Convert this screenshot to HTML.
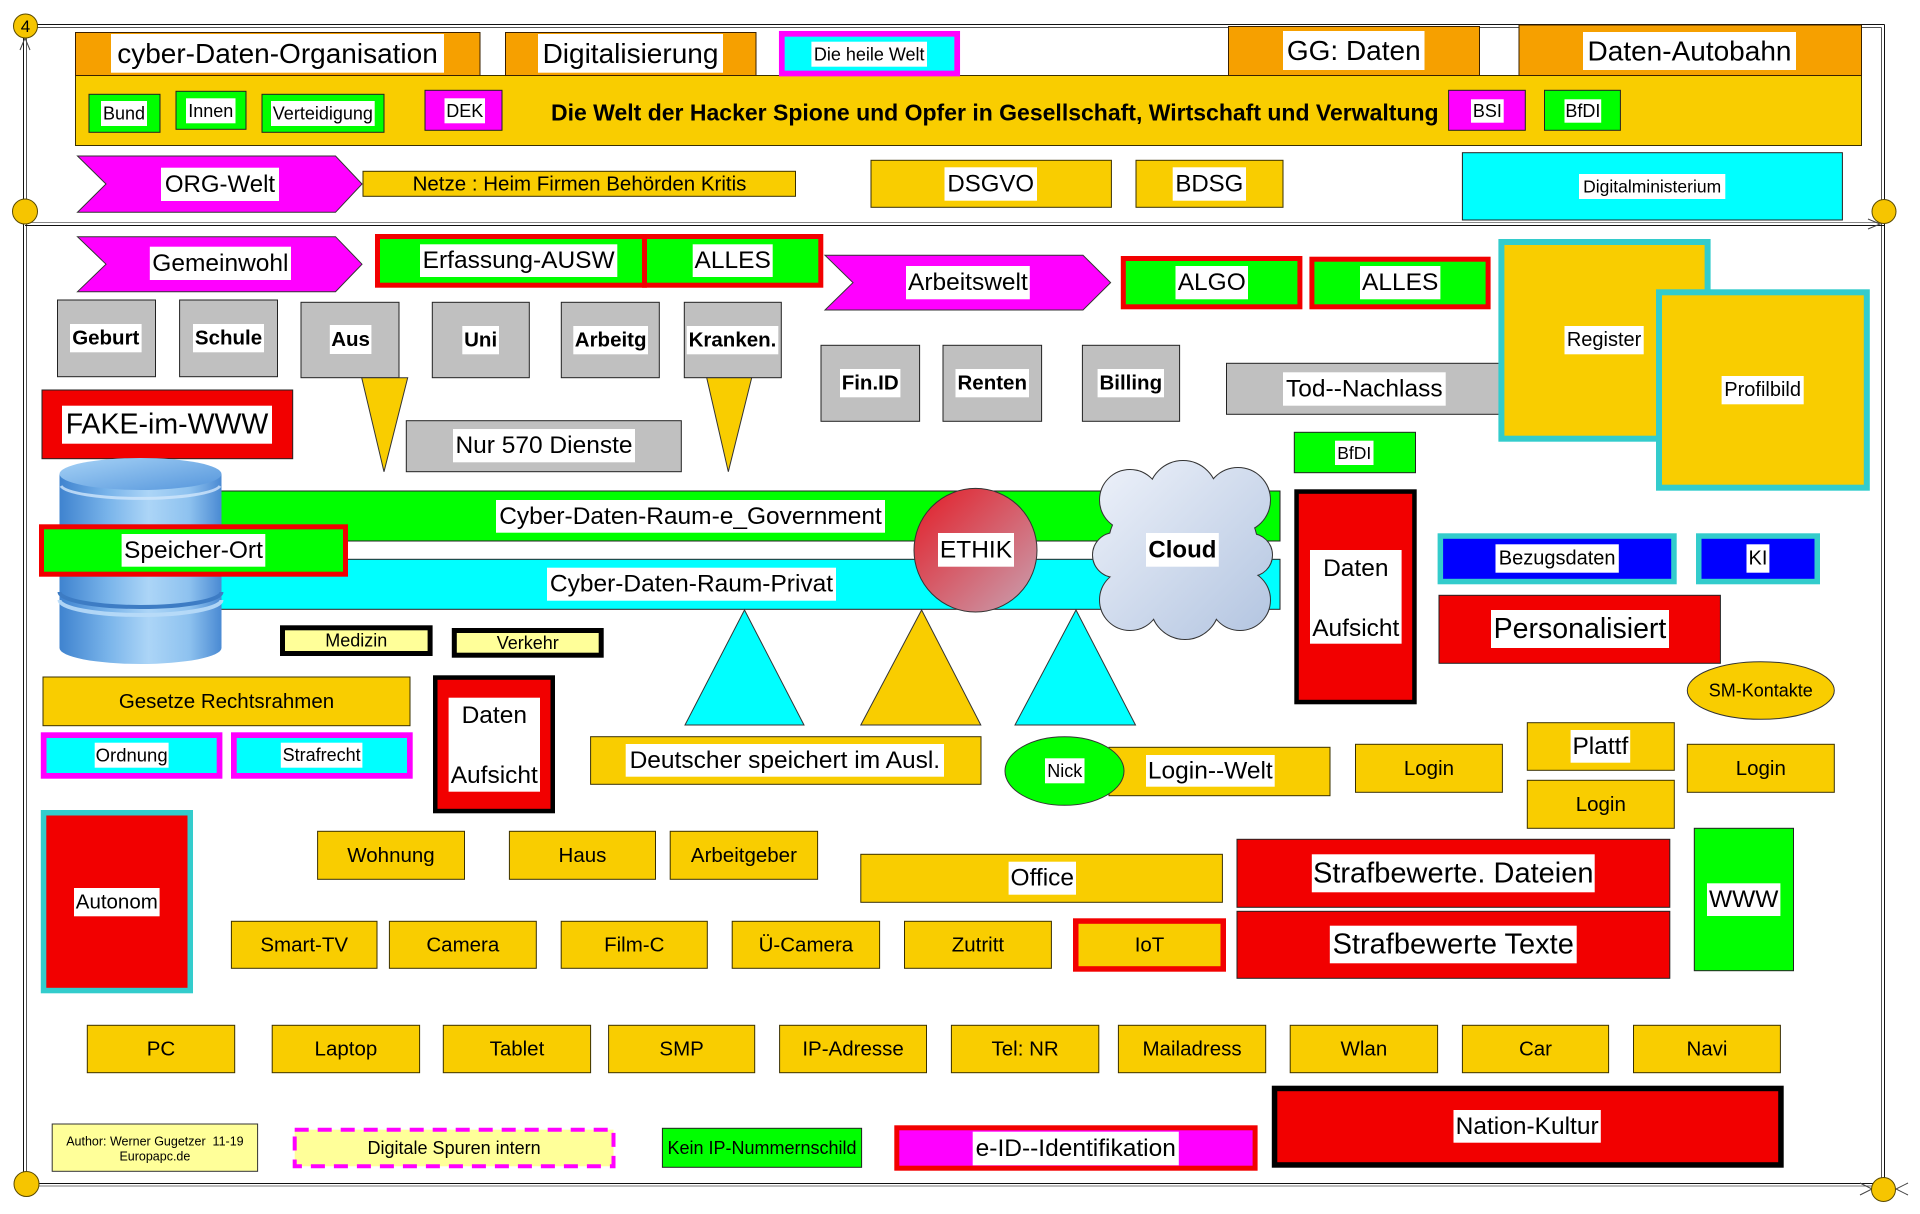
<!DOCTYPE html>
<html><head><meta charset="utf-8">
<style>
html,body{margin:0;padding:0;background:#fff;overflow:hidden;}
svg{display:block;}
text{font-family:"Liberation Sans",Arial,sans-serif;text-anchor:middle;dominant-baseline:central;fill:#000;}
.b{font-weight:bold;}
.w{fill:#fff;}
.y{fill:#f9cd00;stroke:#3a3000;stroke-width:1;}
.o{fill:#f6a000;stroke:#3a2000;stroke-width:1;}
.g{fill:#00ff00;stroke:#222;stroke-width:1;}
.m{fill:#ff00ff;stroke:#222;stroke-width:1;}
.c{fill:#00ffff;stroke:#222;stroke-width:1;}
.gr{fill:#c0c0c0;stroke:#222;stroke-width:1;}
.r{fill:#f20000;stroke:#222;stroke-width:1;}
.ly{fill:#ffff99;stroke:#333;stroke-width:1;}
.ln{stroke:#111;stroke-width:1;fill:none;}
.cir{fill:#f6c500;stroke:#5a4a00;stroke-width:1;}
</style></head>
<body>
<svg width="1920" height="1214" viewBox="0 0 1920 1214" xmlns="http://www.w3.org/2000/svg">
<defs>
<linearGradient id="cyl" x1="0" x2="1" y1="0" y2="0">
<stop offset="0" stop-color="#3f83cf"/><stop offset="0.3" stop-color="#79b4ea"/><stop offset="0.55" stop-color="#acd5f7"/><stop offset="0.8" stop-color="#8ec2ef"/><stop offset="1" stop-color="#4a8ad3"/>
</linearGradient>
<linearGradient id="cyltop" x1="0" x2="1" y1="0" y2="1">
<stop offset="0" stop-color="#a6d2f6"/><stop offset="1" stop-color="#5596dc"/>
</linearGradient>
<linearGradient id="eth" x1="0" y1="0" x2="1" y2="1">
<stop offset="0" stop-color="#e31c26"/><stop offset="1" stop-color="#c8a2b2"/>
</linearGradient>
<linearGradient id="cld" gradientUnits="userSpaceOnUse" x1="1094" y1="461" x2="1272" y2="639">
<stop offset="0" stop-color="#eef2fa"/><stop offset="1" stop-color="#b2c4e0"/>
</linearGradient>
</defs>

<!-- frame -->
<line class="ln" x1="25" y1="24.5" x2="1884.5" y2="24.5"/>
<line x1="28" y1="27.5" x2="1881.5" y2="27.5" stroke="#555" stroke-width="1"/>
<line class="ln" x1="23.5" y1="26" x2="23.5" y2="1184"/>
<line x1="26.5" y1="30" x2="26.5" y2="1184" stroke="#555" stroke-width="1"/>
<line x1="1881.5" y1="27.5" x2="1881.5" y2="1183" stroke="#555" stroke-width="1"/>
<line class="ln" x1="1884.5" y1="24.5" x2="1884.5" y2="1186"/>
<line x1="25" y1="222.5" x2="1884" y2="222.5" stroke="#888" stroke-width="1"/>
<line class="ln" x1="25" y1="225.5" x2="1884" y2="225.5"/>
<line class="ln" x1="26" y1="1183.5" x2="1884" y2="1183.5"/>
<line x1="26" y1="1186" x2="1884" y2="1186" stroke="#777" stroke-width="1"/>
<polyline points="20,50 25,38 30,50" fill="none" stroke="#444" stroke-width="1"/>
<polyline points="1868,219 1880,224 1868,229" fill="none" stroke="#444" stroke-width="1"/>
<polyline points="1860,1183 1872,1189 1860,1195" fill="none" stroke="#444" stroke-width="1"/>
<polyline points="1908,1183 1896,1189 1908,1195" fill="none" stroke="#444" stroke-width="1"/>

<!-- top section -->
<rect class="y" x="75.5" y="75.5" width="1786" height="70"/>
<rect class="o" x="75.5" y="32.5" width="404.5" height="43"/>
<rect class="w" x="111" y="34" width="333" height="38.7"/><text x="277.5" y="53.5" font-size="28">cyber-Daten-Organisation</text>
<rect class="o" x="505.5" y="32.5" width="250.5" height="43"/>
<rect class="w" x="538" y="34" width="185" height="38.7"/><text x="630.5" y="53.5" font-size="28">Digitalisierung</text>
<rect x="781.8" y="33.8" width="175.4" height="39.7" fill="#00ffff" stroke="#ff00ff" stroke-width="5.7"/>
<rect class="w" x="811.4" y="41.7" width="115.6" height="25"/><text x="869.2" y="54.5" font-size="18">Die heile Welt</text>
<rect class="o" x="1228.5" y="26.5" width="251" height="49"/>
<rect class="w" x="1283" y="31" width="141.5" height="39"/><text x="1353.75" y="50.5" font-size="28">GG: Daten</text>
<rect class="o" x="1519" y="25" width="342.5" height="50.5"/>
<rect class="w" x="1583" y="32" width="213" height="38"/><text x="1689.5" y="51" font-size="28">Daten-Autobahn</text>

<rect class="g" x="89" y="94.3" width="71" height="38"/>
<rect class="w" x="101" y="101" width="46" height="25"/><text x="124" y="113.5" font-size="18">Bund</text>
<rect class="g" x="176" y="91.3" width="70" height="38"/>
<rect class="w" x="186" y="98.3" width="49.5" height="25"/><text x="210.75" y="110.8" font-size="18">Innen</text>
<rect class="g" x="262" y="94.3" width="122" height="38"/>
<rect class="w" x="271" y="101" width="103.7" height="25"/><text x="322.85" y="113.5" font-size="18">Verteidigung</text>
<rect class="m" x="425" y="90.3" width="77" height="40"/>
<rect class="w" x="444.5" y="98.3" width="40.5" height="25"/><text x="464.75" y="110.8" font-size="18">DEK</text>
<text x="551" y="112.3" font-size="23" class="b" style="text-anchor:start">Die Welt der Hacker Spione und Opfer in Gesellschaft, Wirtschaft und Verwaltung</text>
<rect class="m" x="1448.6" y="90.3" width="76.7" height="40"/>
<rect class="w" x="1471" y="99.3" width="32.7" height="23.4"/><text x="1487.35" y="111" font-size="18">BSI</text>
<rect class="g" x="1544.5" y="90.3" width="75.9" height="40"/>
<rect class="w" x="1564.5" y="99.3" width="36.7" height="23.4"/><text x="1582.85" y="111" font-size="18">BfDI</text>

<polygon points="77.5,156 335.5,156 362,184 335.5,212.3 77.5,212.3 106,184" fill="#ff00ff" stroke="#333" stroke-width="1"/>
<rect class="w" x="161" y="167.7" width="118" height="33.3"/><text x="220" y="184.35" font-size="24">ORG-Welt</text>
<rect class="y" x="363" y="171.3" width="432.5" height="25"/>
<text x="579.5" y="183.8" font-size="20.5">Netze : Heim Firmen Behörden Kritis</text>
<rect class="y" x="871" y="160.3" width="240.4" height="47"/>
<rect class="w" x="944.5" y="167.3" width="92.5" height="33.4"/><text x="990.75" y="184" font-size="24">DSGVO</text>
<rect class="y" x="1136" y="160.3" width="147" height="47"/>
<rect class="w" x="1172.7" y="167.3" width="73.3" height="33.4"/><text x="1209.35" y="184" font-size="24">BDSG</text>
<rect class="c" x="1462.4" y="152.7" width="380" height="67.3"/>
<rect class="w" x="1579" y="174" width="146.3" height="25"/><text x="1652.15" y="186.5" font-size="17.5">Digitalministerium</text>

<!-- lower section -->
<polygon points="77.5,236.7 335.5,236.7 362,264.2 335.5,291.7 77.5,291.7 106,264.2" fill="#ff00ff" stroke="#333" stroke-width="1"/>
<rect class="w" x="149.8" y="246.7" width="141.2" height="33.3"/><text x="220.4" y="263.35" font-size="24.5">Gemeinwohl</text>
<rect x="377.5" y="236.5" width="267" height="48.7" fill="#00ff00" stroke="#f20000" stroke-width="5"/>
<rect x="644.5" y="236.5" width="176.3" height="48.7" fill="#00ff00" stroke="#f20000" stroke-width="5"/>
<rect class="w" x="420" y="244.3" width="197.3" height="32.7"/><text x="518.65" y="260.65" font-size="24.5">Erfassung-AUSW</text>
<rect class="w" x="692.7" y="244.3" width="80" height="32.7"/><text x="732.7" y="260.65" font-size="24.5">ALLES</text>
<polygon points="825,255.3 1083,255.3 1110.6,282.65 1083,310 825,310 853,282.65" fill="#ff00ff" stroke="#333" stroke-width="1"/>
<rect class="w" x="906" y="266" width="123.8" height="33.3"/><text x="967.9" y="282.65" font-size="24.5">Arbeitswelt</text>
<rect x="1123.3" y="258.5" width="176.6" height="48.3" fill="#00ff00" stroke="#f20000" stroke-width="5"/>
<rect class="w" x="1175.5" y="266" width="72.5" height="33.3"/><text x="1211.75" y="282.65" font-size="24.5">ALGO</text>
<rect x="1311.9" y="259.2" width="176.2" height="47.6" fill="#00ff00" stroke="#f20000" stroke-width="5"/>
<rect class="w" x="1360" y="266" width="80.4" height="33.3"/><text x="1400.2" y="282.65" font-size="24.5">ALLES</text>

<rect class="gr" x="1226.5" y="363.3" width="280" height="51"/>
<rect class="w" x="1283" y="372.3" width="162.7" height="33.4"/><text x="1364.35" y="389" font-size="24.5">Tod--Nachlass</text>
<rect x="1501.4" y="242" width="206.2" height="196.7" fill="#f9cd00" stroke="#33cccc" stroke-width="6"/>
<rect class="w" x="1564.5" y="326" width="79.2" height="28.3"/><text x="1604.1" y="340.15" font-size="20">Register</text>
<rect x="1659" y="292.3" width="207.8" height="195.4" fill="#f9cd00" stroke="#33cccc" stroke-width="6"/>
<rect class="w" x="1721.6" y="376" width="82.1" height="28.3"/><text x="1762.65" y="390.15" font-size="20">Profilbild</text>

<rect class="gr" x="57.5" y="300" width="98" height="76.7"/>
<rect class="w" x="70" y="324" width="71.6" height="28.3"/><text class="b" x="105.8" y="338.15" font-size="20.5">Geburt</text>
<rect class="gr" x="179.6" y="300" width="97.9" height="76.7"/>
<rect class="w" x="193" y="324" width="71" height="28.3"/><text class="b" x="228.5" y="338.15" font-size="20.5">Schule</text>
<rect class="gr" x="301" y="302.3" width="98" height="75.4"/>
<rect class="w" x="329.8" y="325" width="41.6" height="29"/><text class="b" x="350.6" y="339.5" font-size="20.5">Aus</text>
<rect class="gr" x="432.3" y="302.3" width="97" height="75.4"/>
<rect class="w" x="462.3" y="326" width="36.7" height="28.3"/><text class="b" x="480.65" y="340.15" font-size="20.5">Uni</text>
<rect class="gr" x="561.3" y="302.3" width="98" height="75.4"/>
<rect class="w" x="573.3" y="326" width="74.7" height="28.3"/><text class="b" x="610.65" y="340.15" font-size="20.5">Arbeitg</text>
<rect class="gr" x="684.3" y="302.3" width="97" height="75.4"/>
<rect class="w" x="686.7" y="326" width="91.6" height="28.3"/><text class="b" x="732.5" y="340.15" font-size="20.5">Kranken.</text>
<polygon points="361.7,377.7 407.7,377.7 384,471.7" fill="#f9cd00" stroke="#333" stroke-width="1"/>
<polygon points="706.7,377.7 751.7,377.7 728.3,471.7" fill="#f9cd00" stroke="#333" stroke-width="1"/>

<rect class="gr" x="821" y="345.3" width="98.6" height="76"/>
<rect class="w" x="840" y="369" width="60.4" height="28.3"/><text class="b" x="870.2" y="383.15" font-size="20.5">Fin.ID</text>
<rect class="gr" x="943" y="345.3" width="98.6" height="76"/>
<rect class="w" x="955.5" y="369" width="73.5" height="28.3"/><text class="b" x="992.25" y="383.15" font-size="20.5">Renten</text>
<rect class="gr" x="1082.4" y="345.3" width="97.2" height="76"/>
<rect class="w" x="1097.6" y="369" width="66.4" height="28.3"/><text class="b" x="1130.8" y="383.15" font-size="20.5">Billing</text>

<rect class="r" x="42" y="390" width="250.7" height="68.7"/>
<rect class="w" x="62" y="405.7" width="210" height="38"/><text x="167" y="424.7" font-size="28.5">FAKE-im-WWW</text>
<rect class="gr" x="406.3" y="420.7" width="275" height="51"/>
<rect class="w" x="453" y="429" width="182" height="33.3"/><text x="544" y="445.65" font-size="24.5">Nur 570 Dienste</text>
<rect class="g" x="1294.3" y="432.3" width="121.2" height="40.4"/>
<rect class="w" x="1335" y="440.7" width="38.5" height="24.3"/><text x="1354.25" y="452.85" font-size="17.5">BfDI</text>

<!-- bands -->
<rect class="g" x="200" y="491" width="1080" height="50"/>
<rect class="w" x="496" y="500" width="389" height="32.7"/><text x="690.5" y="516.35" font-size="24.5">Cyber-Daten-Raum-e_Government</text>
<rect class="c" x="200" y="559.3" width="1080" height="50"/>
<rect class="w" x="547" y="567.7" width="289" height="33"/><text x="691.5" y="584.2" font-size="24.5">Cyber-Daten-Raum-Privat</text>

<!-- cylinder -->
<path d="M59.5,474 L59.5,648 A81,16 0 0 0 221.5,648 L221.5,474 Z" fill="url(#cyl)"/>
<ellipse cx="140.5" cy="474" rx="81" ry="16" fill="url(#cyltop)"/>
<path d="M61,486 A80,14 0 0 0 220,486" fill="none" stroke="#cfe6fb" stroke-width="3" opacity="0.8"/>
<path d="M59.5,592 A81,15 0 0 0 221.5,592" fill="none" stroke="#3d7cc4" stroke-width="4"/>
<path d="M59.5,600 A81,15 0 0 0 221.5,600" fill="none" stroke="#b9dcf8" stroke-width="4" opacity="0.9"/>

<rect x="41.5" y="526.8" width="304" height="47.4" fill="#00ff00" stroke="#f20000" stroke-width="5"/>
<rect class="w" x="121.6" y="534" width="143.7" height="32.7"/><text x="193.45" y="550.35" font-size="24.5">Speicher-Ort</text>

<ellipse cx="975.5" cy="550.2" rx="61.5" ry="61.8" fill="url(#eth)" stroke="#333" stroke-width="1"/>
<rect class="w" x="938" y="533" width="76" height="33.7"/><text x="976" y="549.85" font-size="24.5">ETHIK</text>

<!-- cloud -->
<g stroke="#333" stroke-width="2" fill="url(#cld)">
<ellipse cx="1183" cy="550" rx="75" ry="70"/>
<circle cx="1183" cy="495" r="34"/>
<circle cx="1130" cy="500" r="30"/>
<circle cx="1238" cy="500" r="32"/>
<circle cx="1115" cy="555" r="22"/>
<circle cx="1251" cy="555" r="21"/>
<circle cx="1130" cy="600" r="30"/>
<circle cx="1185" cy="605" r="34"/>
<circle cx="1240" cy="600" r="30"/>
</g>
<g fill="url(#cld)">
<ellipse cx="1183" cy="550" rx="75" ry="70"/>
<circle cx="1183" cy="495" r="34"/>
<circle cx="1130" cy="500" r="30"/>
<circle cx="1238" cy="500" r="32"/>
<circle cx="1115" cy="555" r="22"/>
<circle cx="1251" cy="555" r="21"/>
<circle cx="1130" cy="600" r="30"/>
<circle cx="1185" cy="605" r="34"/>
<circle cx="1240" cy="600" r="30"/>
</g>
<rect class="w" x="1146" y="533" width="72.8" height="33.7"/><text class="b" x="1182.4" y="549.85" font-size="24">Cloud</text>

<rect x="1296.55" y="491.55" width="117.9" height="210.5" fill="#f20000" stroke="#000" stroke-width="4.5"/>
<rect class="w" x="1310" y="550" width="91.6" height="93.7"/>
<text x="1355.8" y="568.3" font-size="24.5">Daten</text><text x="1355.8" y="628.3" font-size="24.5">Aufsicht</text>

<rect x="1440.35" y="536.05" width="233.6" height="45.5" fill="#0000ff" stroke="#33cccc" stroke-width="5.5"/>
<rect class="w" x="1495.5" y="544.3" width="123.3" height="28.4"/><text x="1557.15" y="558.5" font-size="20">Bezugsdaten</text>
<rect x="1698.75" y="536.05" width="118.5" height="45.5" fill="#0000ff" stroke="#33cccc" stroke-width="5.5"/>
<rect class="w" x="1746.5" y="544.3" width="22.9" height="28.4"/><text x="1757.95" y="558.5" font-size="20">KI</text>
<rect class="r" x="1439" y="595.3" width="281.4" height="68"/>
<rect class="w" x="1491" y="610" width="178" height="38"/><text x="1580" y="629" font-size="28.5">Personalisiert</text>
<ellipse cx="1760.8" cy="690.5" rx="73.5" ry="28.8" fill="#f9cd00" stroke="#333" stroke-width="1"/>
<text x="1760.8" y="690.5" font-size="18">SM-Kontakte</text>

<rect x="282.5" y="627.8" width="147.6" height="25.7" fill="#ffff99" stroke="#000" stroke-width="5"/>
<text x="356.3" y="640.65" font-size="18">Medizin</text>
<rect x="454.3" y="630.5" width="146.9" height="24.7" fill="#ffff99" stroke="#000" stroke-width="5"/>
<text x="527.75" y="642.85" font-size="18">Verkehr</text>

<rect class="y" x="43" y="677" width="367" height="48.7"/>
<text x="226.5" y="701.35" font-size="20.5">Gesetze Rechtsrahmen</text>
<rect x="43.65" y="735.15" width="175.9" height="40.7" fill="#00ffff" stroke="#ff00ff" stroke-width="5.7"/>
<rect class="w" x="94.7" y="742.7" width="73.9" height="25"/><text x="131.65" y="755.2" font-size="18.5">Ordnung</text>
<rect x="233.85" y="735.15" width="176" height="40.7" fill="#00ffff" stroke="#ff00ff" stroke-width="5.7"/>
<rect class="w" x="280.8" y="742.7" width="81.6" height="25"/><text x="321.6" y="755.2" font-size="18">Strafrecht</text>

<rect x="435.25" y="677.55" width="117.5" height="133.5" fill="#f20000" stroke="#000" stroke-width="4.5"/>
<rect class="w" x="448.6" y="697.7" width="91.4" height="94"/>
<text x="494.3" y="715.7" font-size="24.5">Daten</text><text x="494.3" y="775.7" font-size="24.5">Aufsicht</text>

<polygon points="744.5,610 685,725 804,725" fill="#00ffff" stroke="#333" stroke-width="1"/>
<polygon points="921.6,610 860.8,725 980.8,725" fill="#f9cd00" stroke="#333" stroke-width="1"/>
<polygon points="1076,610 1015,725 1135.5,725" fill="#00ffff" stroke="#333" stroke-width="1"/>

<rect class="y" x="590.6" y="736.7" width="390.4" height="47.6"/>
<rect class="w" x="625.7" y="744" width="318.3" height="32.7"/><text x="784.85" y="760.35" font-size="24.5">Deutscher speichert im Ausl.</text>

<rect class="y" x="1109" y="747.3" width="221" height="48.4"/>
<rect class="w" x="1146" y="755" width="128.7" height="31.7"/><text x="1210.35" y="770.85" font-size="24.5">Login--Welt</text>
<ellipse cx="1064.5" cy="771" rx="59.5" ry="34.3" fill="#00ff00" stroke="#333" stroke-width="1"/>
<rect class="w" x="1045" y="758.3" width="39.5" height="25"/><text x="1064.75" y="770.8" font-size="18">Nick</text>

<rect class="y" x="1355.5" y="744.3" width="146.9" height="48"/><text x="1428.95" y="768.3" font-size="20.5">Login</text>
<rect class="y" x="1527.3" y="722.7" width="147" height="47.6"/>
<rect class="w" x="1570.6" y="730" width="59.6" height="32.7"/><text x="1600.4" y="746.35" font-size="24.5">Plattf</text>
<rect class="y" x="1527.3" y="780.3" width="147" height="48"/><text x="1600.8" y="804.3" font-size="20.5">Login</text>
<rect class="y" x="1687.3" y="744.3" width="147" height="48"/><text x="1760.8" y="768.3" font-size="20.5">Login</text>

<rect x="43.55" y="812.75" width="146.7" height="177.8" fill="#f20000" stroke="#33cccc" stroke-width="5.5"/>
<rect class="w" x="74" y="888" width="85.6" height="28.3"/><text x="116.8" y="902.15" font-size="20.5">Autonom</text>

<rect class="y" x="317.6" y="831.3" width="146.9" height="48"/><text x="391" y="855.3" font-size="20.5">Wohnung</text>
<rect class="y" x="509.4" y="831.3" width="146.1" height="48"/><text x="582.45" y="855.3" font-size="20.5">Haus</text>
<rect class="y" x="670.2" y="831.3" width="147.4" height="48"/><text x="743.9" y="855.3" font-size="20.5">Arbeitgeber</text>
<rect class="y" x="860.8" y="854.3" width="361.6" height="48"/>
<rect class="w" x="1008.6" y="861.7" width="67.4" height="33"/><text x="1042.3" y="878.2" font-size="24.5">Office</text>

<rect class="y" x="231.4" y="921.3" width="145.6" height="47"/><text x="304.2" y="944.8" font-size="20.5">Smart-TV</text>
<rect class="y" x="389.4" y="921.3" width="146.9" height="47"/><text x="462.85" y="944.8" font-size="20.5">Camera</text>
<rect class="y" x="561.2" y="921.3" width="146.1" height="47"/><text x="634.25" y="944.8" font-size="20.5">Film-C</text>
<rect class="y" x="732.2" y="921.3" width="147.4" height="47"/><text x="805.9" y="944.8" font-size="20.5">Ü-Camera</text>
<rect class="y" x="904.5" y="921.3" width="146.9" height="47"/><text x="977.95" y="944.8" font-size="20.5">Zutritt</text>
<rect x="1075.75" y="921.05" width="147.5" height="47.9" fill="#f9cd00" stroke="#f20000" stroke-width="5.5"/>
<text x="1149.5" y="945" font-size="20.5">IoT</text>

<rect class="r" x="1237" y="839.3" width="432.8" height="68"/>
<rect class="w" x="1311.8" y="854.3" width="282.9" height="38"/><text x="1453.25" y="873.3" font-size="29">Strafbewerte. Dateien</text>
<rect class="r" x="1237" y="911.3" width="432.8" height="67"/>
<rect class="w" x="1329.8" y="925.7" width="246.9" height="37.6"/><text x="1453.25" y="944.5" font-size="29">Strafbewerte Texte</text>
<rect class="g" x="1694.3" y="828.3" width="99.2" height="142.4"/>
<rect class="w" x="1707" y="883.3" width="73.4" height="32.7"/><text x="1743.7" y="899.65" font-size="24.5">WWW</text>

<rect class="y" x="87.3" y="1025.3" width="147.4" height="47.4"/><text x="161" y="1049" font-size="20.5">PC</text>
<rect class="y" x="272.2" y="1025.3" width="147.4" height="47.4"/><text x="345.9" y="1049" font-size="20.5">Laptop</text>
<rect class="y" x="443.3" y="1025.3" width="147.3" height="47.4"/><text x="516.95" y="1049" font-size="20.5">Tablet</text>
<rect class="y" x="608.6" y="1025.3" width="146.1" height="47.4"/><text x="681.65" y="1049" font-size="20.5">SMP</text>
<rect class="y" x="779.6" y="1025.3" width="146.9" height="47.4"/><text x="853.05" y="1049" font-size="20.5">IP-Adresse</text>
<rect class="y" x="951.4" y="1025.3" width="147.4" height="47.4"/><text x="1025.1" y="1049" font-size="20.5">Tel: NR</text>
<rect class="y" x="1118.4" y="1025.3" width="147.3" height="47.4"/><text x="1192.05" y="1049" font-size="20.5">Mailadress</text>
<rect class="y" x="1290.2" y="1025.3" width="147.4" height="47.4"/><text x="1363.9" y="1049" font-size="20.5">Wlan</text>
<rect class="y" x="1462.4" y="1025.3" width="146.2" height="47.4"/><text x="1535.5" y="1049" font-size="20.5">Car</text>
<rect class="y" x="1633.5" y="1025.3" width="146.9" height="47.4"/><text x="1706.95" y="1049" font-size="20.5">Navi</text>

<rect x="1274.55" y="1088.45" width="506.4" height="76.5" fill="#f20000" stroke="#000" stroke-width="5.5"/>
<rect class="w" x="1453.5" y="1110" width="147.3" height="32.7"/><text x="1527.15" y="1126.35" font-size="24.5">Nation-Kultur</text>

<rect class="ly" x="52.2" y="1124" width="205.4" height="47.3"/>
<text x="154.9" y="1141.7" font-size="12.5" style="white-space:pre">Author: Werner Gugetzer  11-19</text>
<text x="154.9" y="1156.7" font-size="12.5">Europapc.de</text>
<rect x="294.7" y="1129.7" width="318.8" height="36.6" fill="#ffff99" stroke="#ff00ff" stroke-width="4" stroke-dasharray="14 9"/>
<text x="454.1" y="1148" font-size="18">Digitale Spuren intern</text>
<rect class="g" x="662.4" y="1128.3" width="199.2" height="39"/>
<text x="762" y="1147.8" font-size="18">Kein IP-Nummernschild</text>
<rect x="896.8" y="1127.8" width="358.3" height="40.4" fill="#ff00ff" stroke="#f20000" stroke-width="5"/>
<rect class="w" x="972.7" y="1131.7" width="206.1" height="33.6"/><text x="1075.75" y="1148.5" font-size="24.5">e-ID--Identifikation</text>

<!-- circles -->
<circle class="cir" cx="25.5" cy="26" r="12"/><text x="25.5" y="26.5" font-size="17">4</text>
<circle class="cir" cx="25" cy="211.5" r="12.5"/>
<circle class="cir" cx="26.5" cy="1184" r="12.5"/>
<circle class="cir" cx="1884" cy="211.5" r="12"/>
<circle class="cir" cx="1883.5" cy="1189.5" r="12"/>
</svg>
</body></html>
